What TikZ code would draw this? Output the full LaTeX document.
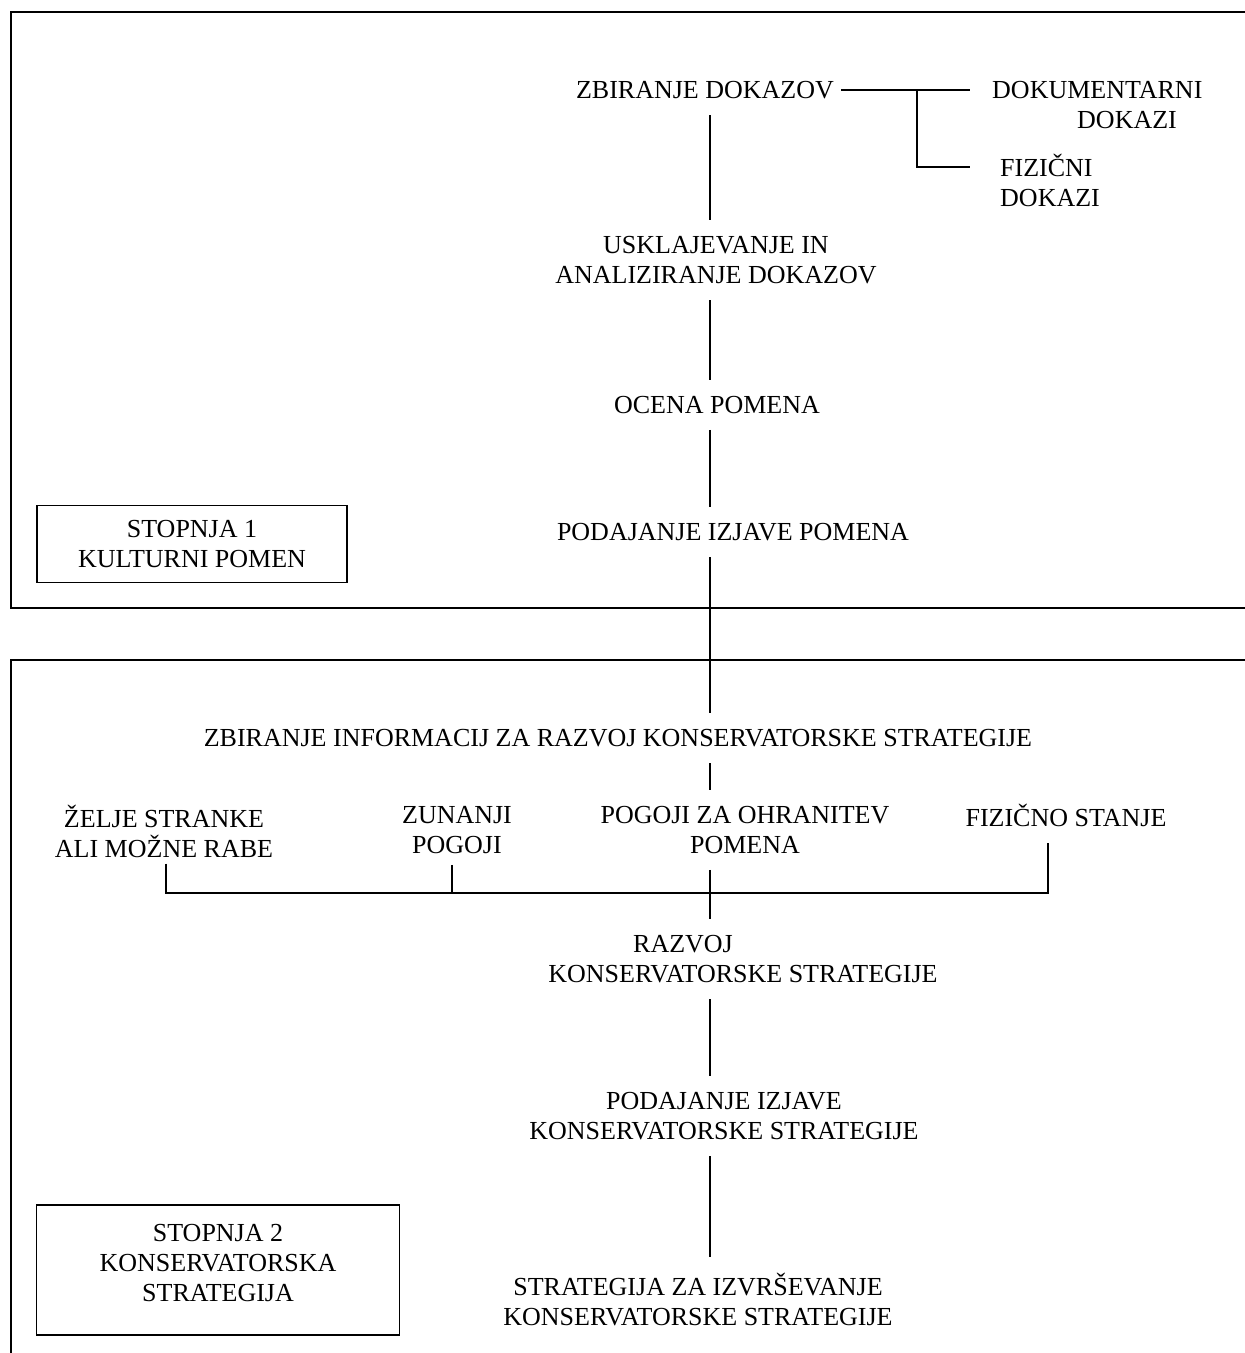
\documentclass[tikz,border=0pt]{standalone}
\usepackage{fontspec}
\setmainfont{Liberation Serif}
\usetikzlibrary{positioning}

\begin{document}
\begin{tikzpicture}[x=1pt,y=-1pt,
        lbl/.style={align=center,font=\fontsize{26}{30}\selectfont,inner xsep=7pt,inner ysep=16pt},
        wire/.style={line width=1.6pt},
        stagebox/.style={draw,line width=1.6pt,align=center,font=\fontsize{26}{30}\selectfont}]
    \useasboundingbox (0,0) rectangle (1245,1353);
    \clip (0,0) rectangle (1245,1353);
    % the two stage frames (run out of the page on the right)
    \draw[wire] (11,12) rectangle (1270,608);
    \draw[wire] (11,660) rectangle (1270,1380);
    \coordinate (spine) at (710,0);
    % stage 1
    \node[lbl] (zbdok) at (705,90) {ZBIRANJE DOKAZOV};
    \node[lbl,anchor=west,align=left,inner xsep=0pt] (dokum) at (992,105) {DOKUMENTARNI\\\hspace*{85pt}DOKAZI};
    \node[lbl,anchor=west,align=left,inner xsep=0pt] (fizdok) at (1000,180) {FIZIČNI\\DOKAZI};
    \node[lbl] (uskl) at (716,260) {USKLAJEVANJE IN\\ANALIZIRANJE DOKAZOV};
    \node[lbl] (ocena) at (717,405) {OCENA POMENA};
    \node[lbl] (izjpom) at (733,532) {PODAJANJE IZJAVE POMENA};
    \node[stagebox,minimum width=310pt,minimum height=77pt] (stop1) at (192,544) {STOPNJA 1\\KULTURNI POMEN};
    \coordinate (fork) at (917,90);
    \coordinate (fizin) at (970,167);
    \draw[wire] (zbdok.east) -- ([xshift=-22pt]dokum.west |- zbdok);
    \draw[wire] (fork) |- (fizin);
    \draw[wire] (spine |- zbdok.south) -- (spine |- uskl.north);
    \draw[wire] (spine |- uskl.south) -- (spine |- ocena.north);
    \draw[wire] (spine |- ocena.south) -- (spine |- izjpom.north);
    % stage 2
    \node[lbl] (zbinf) at (618,738) {ZBIRANJE INFORMACIJ ZA RAZVOJ KONSERVATORSKE STRATEGIJE};
    \node[lbl] (zelje) at (164,831) {ŽELJE STRANKE\\ALI MOŽNE RABE};
    \node[lbl] (zunanji) at (457,830) {ZUNANJI\\POGOJI};
    \node[lbl] (pogoji) at (745,830) {POGOJI ZA OHRANITEV\\POMENA};
    \node[lbl] (fstanje) at (1066,815) {FIZIČNO STANJE};
    \node[lbl] (razvoj) at (743,959) {RAZVOJ\hspace*{120pt}\\KONSERVATORSKE STRATEGIJE};
    \node[lbl] (izjkon) at (724,1116) {PODAJANJE IZJAVE\\KONSERVATORSKE STRATEGIJE};
    \node[lbl] (izvr) at (698,1300) {STRATEGIJA ZA IZVRŠEVANJE\\KONSERVATORSKE STRATEGIJE};
    \node[stagebox,minimum width=363pt,minimum height=130pt,text depth=14pt] (stop2) at (218,1270) {STOPNJA 2\\KONSERVATORSKA\\STRATEGIJA};
    \coordinate (busL) at (166,893);
    \coordinate (busZ) at (452,893);
    \coordinate (busR) at (1048,893);
    \draw[wire] (spine |- izjpom.south) -- (spine |- zbinf.north);
    \draw[wire] (spine |- zbinf.south) -- (spine |- pogoji.north);
    \draw[wire] ([yshift=10pt]zelje.south -| busL) -- (busL) -- (busR) -- (fstanje.south -| busR);
    \draw[wire] ([yshift=5pt]zunanji.south -| busZ) -- (busZ);
    \draw[wire] (spine |- pogoji.south) -- (spine |- razvoj.north);
    \draw[wire] (spine |- razvoj.south) -- (spine |- izjkon.north);
    \draw[wire] (spine |- izjkon.south) -- (spine |- izvr.north);
\end{tikzpicture}
\end{document}
